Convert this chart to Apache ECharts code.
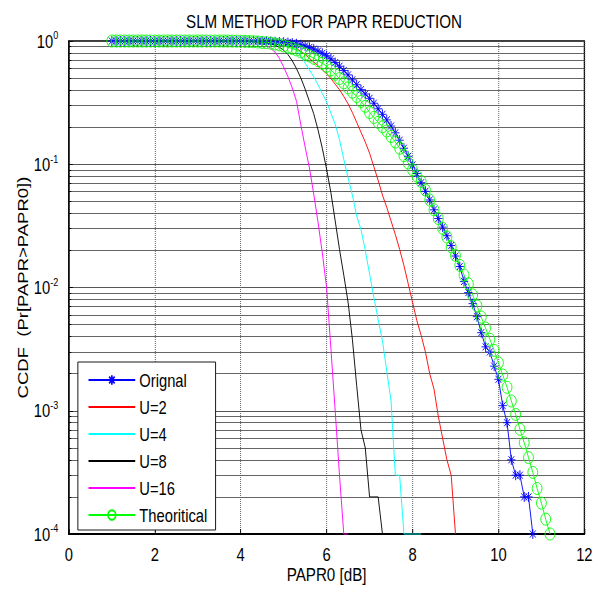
<!DOCTYPE html>
<html>
<head>
<meta charset="utf-8">
<title>SLM METHOD FOR PAPR REDUCTION</title>
<script src="https://cdn.jsdelivr.net/npm/echarts@6/dist/echarts.min.js"></script>
<style>
  html, body { margin: 0; padding: 0; background: #fff; overflow: hidden; width: 595px; height: 589px; }
  /* the figure is laid out on a wider canvas and narrowed horizontally,
     which gives the condensed lettering and slightly tall markers */
  #chart { width: 726px; height: 589px; transform: scaleX(0.8196); transform-origin: 0 0; }
</style>
</head>
<body>
<div id="chart"></div>
<script>
// PAPR0 thresholds in dB (0.1 dB grid)
const papr0 = [
  1.0, 1.1, 1.2, 1.3, 1.4, 1.5, 1.6, 1.7, 1.8, 1.9,
  2.0, 2.1, 2.2, 2.3, 2.4, 2.5, 2.6, 2.7, 2.8, 2.9,
  3.0, 3.1, 3.2, 3.3, 3.4, 3.5, 3.6, 3.7, 3.8, 3.9,
  4.0, 4.1, 4.2, 4.3, 4.4, 4.5, 4.6, 4.7, 4.8, 4.9,
  5.0, 5.1, 5.2, 5.3, 5.4, 5.5, 5.6, 5.7, 5.8, 5.9,
  6.0, 6.1, 6.2, 6.3, 6.4, 6.5, 6.6, 6.7, 6.8, 6.9,
  7.0, 7.1, 7.2, 7.3, 7.4, 7.5, 7.6, 7.7, 7.8, 7.9,
  8.0, 8.1, 8.2, 8.3, 8.4, 8.5, 8.6, 8.7, 8.8, 8.9,
  9.0, 9.1, 9.2, 9.3, 9.4, 9.5, 9.6, 9.7, 9.8, 9.9,
  10.0, 10.1, 10.2, 10.3, 10.4, 10.5, 10.6, 10.7, 10.8, 10.9,
  11.0, 11.1, 11.2
];

// CCDF of the original OFDM signal (no SLM)
const ccdfOriginal = [
  1, 1, 1, 1, 1, 1, 1, 1, 1, 1,
  1, 1, 1, 1, 1, 1, 1, 1, 1, 1,
  1, 1, 1, 1, 1, 1, 1, 1, 1, 1,
  1, 1, 0.9977, 0.9977, 0.9954, 0.9954, 0.9931, 0.9908, 0.9863, 0.9817,
  0.9772, 0.9705, 0.9616, 0.9484, 0.9333, 0.9120, 0.8872, 0.8590, 0.8279, 0.7943,
  0.7586, 0.7161, 0.6683, 0.6237, 0.5754, 0.5309, 0.4842, 0.4416, 0.4027, 0.3715,
  0.3428, 0.3126, 0.2818, 0.2541, 0.2291, 0.2042, 0.1799, 0.1567, 0.1349, 0.1161,
  0.0989, 0.0841, 0.0708, 0.0603, 0.0513, 0.0427, 0.0363, 0.0309, 0.0263, 0.0219,
  0.0180, 0.0148, 0.0112, 0.0091, 0.0074, 0.0058, 0.0043, 0.0033, 0.0030, 0.0023,
  0.0018, 0.0011, 0.0008, 0.0004, 0.0003, 0.0003, 0.0002, 0.0002, 0.0001
];

// SLM with U = 2 candidate phase sequences
const ccdfU2 = [
  1, 1, 1, 1, 1, 1, 1, 1, 1, 1,
  1, 1, 1, 1, 1, 1, 1, 1, 1, 1,
  1, 1, 1, 1, 1, 1, 1, 1, 1, 1,
  1, 1, 1, 1, 1, 0.9954, 0.9931, 0.9886, 0.9817, 0.9727,
  0.9594, 0.9376, 0.9078, 0.8710, 0.8222, 0.7762, 0.7244, 0.6761, 0.6310, 0.5821,
  0.5433, 0.4955, 0.4467, 0.4027, 0.3548, 0.3090, 0.2630, 0.2188, 0.1820, 0.1514,
  0.1230, 0.0955, 0.0741, 0.0562, 0.0447, 0.0347, 0.0269, 0.0204, 0.0151, 0.0107,
  0.0076, 0.0054, 0.0041, 0.0030, 0.0020, 0.0015, 0.0009, 0.0006, 0.0004, 0.0003,
  0.0001
];

// SLM with U = 4
const ccdfU4 = [
  1, 1, 1, 1, 1, 1, 1, 1, 1, 1,
  1, 1, 1, 1, 1, 1, 1, 1, 1, 1,
  1, 1, 1, 1, 1, 1, 1, 1, 1, 1,
  1, 1, 1, 1, 1, 0.9954, 0.9931, 0.9886, 0.9817, 0.9705,
  0.9550, 0.9333, 0.9120, 0.8414, 0.7499, 0.6607, 0.5821, 0.5129, 0.4416, 0.3758,
  0.3199, 0.2600, 0.2113, 0.1585, 0.1096, 0.0776, 0.0562, 0.0380, 0.0295, 0.0200,
  0.0129, 0.0083, 0.0055, 0.0037, 0.0021, 0.0012, 0.0003, 0.0003, 0.0001, 0.0001,
  0.0001, 0.0001, 0.0001
];

// SLM with U = 8
const ccdfU8 = [
  1, 1, 1, 1, 1, 1, 1, 1, 1, 1,
  1, 1, 1, 1, 1, 1, 1, 1, 1, 1,
  1, 1, 1, 1, 1, 1, 1, 1, 1, 1,
  0.9977, 0.9954, 0.9931, 0.9886, 0.9817, 0.9727, 0.9594, 0.9462, 0.9226, 0.8913,
  0.8414, 0.7762, 0.6918, 0.5957, 0.5012, 0.4074, 0.3236, 0.2570, 0.1905, 0.1349,
  0.0912, 0.0589, 0.0347, 0.0204, 0.0126, 0.0076, 0.0038, 0.0016, 0.0007, 0.0005,
  0.0002, 0.0002, 0.0002, 0.0001
];

// SLM with U = 16
const ccdfU16 = [
  1, 1, 1, 1, 1, 1, 1, 1, 1, 1,
  1, 1, 1, 1, 1, 1, 1, 1, 1, 1,
  1, 1, 1, 1, 1, 1, 1, 1, 1, 1,
  0.9954, 0.9931, 0.9886, 0.9817, 0.9705, 0.9506, 0.9226, 0.8710, 0.8128, 0.7244,
  0.6166, 0.5129, 0.4169, 0.3236, 0.2089, 0.1380, 0.0933, 0.0575, 0.0339, 0.0191,
  0.0100, 0.0032, 0.0010, 0.0003, 0.0001, 0.0001
];

// Theoretical CCDF of the unmodified signal
const ccdfTheory = [
  1, 1, 1, 1, 1, 1, 1, 1, 1, 1,
  1, 1, 1, 1, 1, 1, 1, 1, 1, 1,
  1, 1, 1, 1, 1, 0.9998, 0.9995, 0.9990, 0.9980, 0.9968,
  0.9954, 0.9931, 0.9908, 0.9863, 0.9817, 0.9750, 0.9683, 0.9594, 0.9462, 0.9311,
  0.9120, 0.8913, 0.8710, 0.8472, 0.8166, 0.7852, 0.7551, 0.7244, 0.6918, 0.6607,
  0.6237, 0.5821, 0.5370, 0.4955, 0.4571, 0.4169, 0.3846, 0.3548, 0.3236, 0.2951,
  0.2630, 0.2399, 0.2188, 0.2018, 0.1862, 0.1679, 0.1514, 0.1349, 0.1175, 0.1023,
  0.0902, 0.0804, 0.0724, 0.0617, 0.0513, 0.0427, 0.0363, 0.0302, 0.0257, 0.0214,
  0.0182, 0.0151, 0.0126, 0.0107, 0.00871, 0.00708, 0.00575, 0.00468, 0.00380, 0.00309,
  0.00245, 0.00195, 0.00155, 0.00120, 0.000933, 0.000708, 0.000550, 0.000417, 0.000316, 0.000234,
  0.000178, 0.000132, 0.000100
];

const seriesNames = ['Orignal', 'U=2', 'U=4', 'U=8', 'U=16', 'Theoritical'];
const xTicks = [0, 2, 4, 6, 8, 10, 12];

const FONT = '"Liberation Sans", Arial, Helvetica, sans-serif';
const STAR = 'path://M0,-6V6M-6,0H6M-4.24,-4.24L4.24,4.24M-4.24,4.24L4.24,-4.24';
const NO_FILL = 'rgba(0,0,0,0)';

function pairs(values) {
  return values.map((v, i) => [papr0[i], v]);
}

function plainLine(name, values, color) {
  return {
    name: name,
    type: 'line',
    data: pairs(values),
    symbol: 'none',
    clip: false,
    color: color,
    lineStyle: { color: color, width: 1 },
    emphasis: { disabled: true }
  };
}

// legend entries: plain lines carry no marker in their key
const legendData = seriesNames.map((name, i) =>
  (i === 0 || i === seriesNames.length - 1)
    ? { name: name }
    : { name: name, itemStyle: { color: NO_FILL, borderColor: NO_FILL, borderWidth: 0 } }
);

const chart = echarts.init(document.getElementById('chart'), null, { renderer: 'svg' });

chart.setOption({
  animation: false,
  backgroundColor: '#fff',
  title: {
    text: 'SLM METHOD FOR PAPR REDUCTION',
    left: 222,
    top: 7,
    padding: 5,
    textStyle: { fontFamily: FONT, fontSize: 18.5, fontWeight: 'normal', color: '#000' }
  },
  legend: {
    orient: 'vertical',
    left: 95,
    top: 362,
    padding: [9, 10, 6, 12],
    itemWidth: 57,
    itemHeight: 12,
    itemGap: 9,
    backgroundColor: '#fff',
    borderColor: '#000',
    borderWidth: 1,
    borderRadius: 0,
    textStyle: { fontFamily: FONT, fontSize: 18, color: '#000', lineHeight: 18 },
    data: legendData
  },
  grid: {
    left: 84,
    right: 13,
    top: 41,
    bottom: 50,
    show: true,
    borderColor: '#000',
    borderWidth: 1.5,
    backgroundColor: '#fff'
  },
  xAxis: {
    type: 'value',
    min: xTicks[0],
    max: xTicks[xTicks.length - 1],
    interval: 2,
    name: 'PAPR0 [dB]',
    nameLocation: 'middle',
    nameGap: 31,
    nameMoveOverlap: false,
    nameTextStyle: { fontFamily: FONT, fontSize: 18.5, color: '#000' },
    axisLine: { show: true, lineStyle: { color: '#000', width: 2 } },
    axisTick: { show: true, inside: true, length: 5, lineStyle: { color: '#000' } },
    axisLabel: { margin: 11, fontFamily: FONT, fontSize: 18, color: '#000' },
    splitLine: { show: true, lineStyle: { color: '#555', width: 1, type: 'dotted' } }
  },
  yAxis: {
    type: 'log',
    logBase: 10,
    min: 0.0001,
    max: 1,
    interval: 1,
    name: 'CCDF  (Pr[PAPR>PAPR0])',
    nameLocation: 'middle',
    nameGap: 46,
    nameMoveOverlap: false,
    nameTextStyle: { fontFamily: FONT, fontSize: 18.5, color: '#000' },
    axisLine: { show: true, lineStyle: { color: '#000', width: 1.5 } },
    axisTick: { show: true, inside: true, length: 5, lineStyle: { color: '#000' } },
    minorTick: { show: true, splitNumber: 9, length: 3, lineStyle: { color: '#000' } },
    axisLabel: {
      margin: 13,
      formatter: function (v) {
        const e = Math.round(Math.log10(v));
        return '{b|10}{s|' + e + '}';
      },
      rich: {
        b: { fontFamily: FONT, fontSize: 18, lineHeight: 22, color: '#000' },
        s: { fontFamily: FONT, fontSize: 11, lineHeight: 13, verticalAlign: 'top', color: '#000' }
      }
    },
    splitLine: { show: true, lineStyle: { color: '#444', width: 1 } },
    minorSplitLine: { show: true, lineStyle: { color: '#555', width: 1 } }
  },
  series: [
    {
      name: seriesNames[0],
      type: 'line',
      data: pairs(ccdfOriginal),
      symbol: STAR,
      symbolSize: 10,
      clip: false,
      color: '#0000ff',
      itemStyle: { color: NO_FILL, borderColor: '#0000ff', borderWidth: 1 },
      lineStyle: { color: '#0000ff', width: 1 },
      emphasis: { disabled: true }
    },
    plainLine(seriesNames[1], ccdfU2, '#ff0000'),
    plainLine(seriesNames[2], ccdfU4, '#00ffff'),
    plainLine(seriesNames[3], ccdfU8, '#000000'),
    plainLine(seriesNames[4], ccdfU16, '#ff00ff'),
    {
      name: seriesNames[5],
      type: 'line',
      data: pairs(ccdfTheory),
      symbol: 'circle',
      symbolSize: 12,
      clip: false,
      color: '#00ff00',
      itemStyle: { color: NO_FILL, borderColor: '#00ff00', borderWidth: 1 },
      lineStyle: { color: '#00ff00', width: 1 },
      emphasis: { disabled: true }
    }
  ]
});
</script>
</body>
</html>
